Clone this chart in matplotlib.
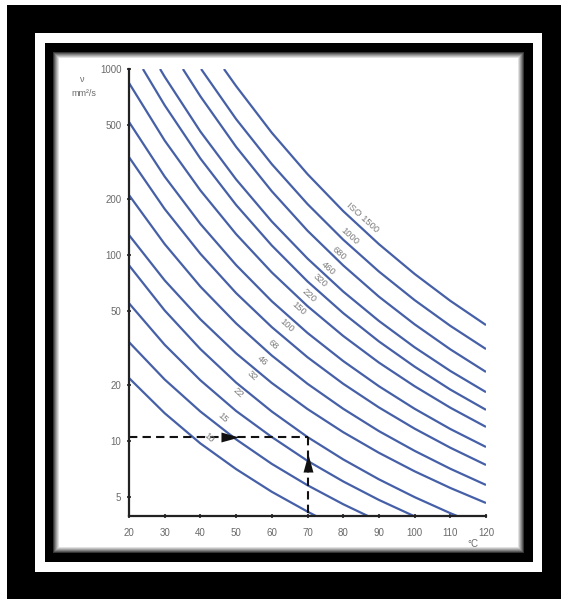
import numpy as np
import matplotlib
matplotlib.use("Agg")
import matplotlib.pyplot as plt

# ---------------- data ----------------
grades = ["10", "15", "22", "32", "46", "68", "100", "150", "220",
          "320", "460", "680", "1000", "ISO 1500"]

t_std = [20, 30, 40, 50, 60, 70, 80, 90, 100, 110, 120]

vg10_t = [20, 30, 40, 50, 60, 70, 72.9]
vg10_v = [21.8, 14.1, 9.7, 7.06, 5.33, 4.17, 3.9]
vg15_t = [20, 30, 40, 50, 60, 70, 80, 87.5]
vg15_v = [34, 21.4, 14.4, 10.2, 7.53, 5.78, 4.57, 3.9]
vg22_t = [20, 30, 40, 50, 60, 70, 80, 90, 100.4]
vg22_v = [55, 32.9, 21.2, 14.5, 10.5, 7.82, 6.06, 4.82, 3.9]
vg32_t = [20, 30, 40, 50, 60, 70, 80, 90, 100, 110, 112.6]
vg32_v = [88, 50.3, 31.2, 20.6, 14.4, 10.5, 7.96, 6.22, 4.99, 4.09, 3.9]
vg46_v = [128, 73.0, 45.1, 29.6, 20.5, 14.85, 11.15, 8.64, 6.87, 5.59, 4.64]
vg68_v = [210, 114.4, 67.6, 42.9, 28.8, 20.3, 14.9, 11.3, 8.85, 7.09, 5.80]
vg100_v = [336, 176.7, 101.5, 62.4, 40.95, 28.2, 20.3, 15.15, 11.65, 9.20, 7.43]
vg150_v = [519, 263.9, 146.9, 88.3, 56.4, 38.1, 26.9, 19.7, 14.9, 11.6, 9.28]
vg220_v = [841, 412.2, 222.5, 129.5, 80.6, 53.1, 36.7, 26.4, 19.7, 15.1, 11.9]
vg320_t = [23.9, 30, 40, 50, 60, 70, 80, 90, 100, 110, 120]
vg320_v = [1000, 638, 330, 185.9, 112.5, 72.1, 48.7, 34.3, 25.1, 18.9, 14.7]
vg460_t = [28.7, 30, 40, 50, 60, 70, 80, 90, 100, 110, 120]
vg460_v = [1000, 908, 461, 255, 151.4, 95.7, 63.6, 44.2, 31.9, 23.8, 18.3]
vg680_t = [35.1, 40, 50, 60, 70, 80, 90, 100, 110, 120]
vg680_v = [1000, 713, 381.5, 220.1, 135.1, 87.9, 59.7, 42.4, 31.1, 23.5]
vg1000_t = [40.2, 50, 60, 70, 80, 90, 100, 110, 120]
vg1000_v = [1000, 538, 308, 187.9, 120.9, 81.5, 57.2, 41.6, 31.2]
vg1500_t = [46.6, 50, 60, 70, 80, 90, 100, 110, 120]
vg1500_v = [1000, 809.5, 454.2, 272.2, 172.2, 114.4, 79.1, 56.7, 42.0]

curves = [
    (vg10_t, vg10_v), (vg15_t, vg15_v), (vg22_t, vg22_v), (vg32_t, vg32_v),
    (t_std, vg46_v), (t_std, vg68_v), (t_std, vg100_v), (t_std, vg150_v),
    (t_std, vg220_v), (vg320_t, vg320_v), (vg460_t, vg460_v),
    (vg680_t, vg680_v), (vg1000_t, vg1000_v), (vg1500_t, vg1500_v),
]

# label anchor positions (temperature, viscosity)
label_t = [42.4, 46.3, 50.5, 54.5, 57.5, 60.3, 64.3, 67.6, 70.4, 73.5, 75.7, 78.8, 81.9, 85.3]
label_v = [10.4, 13.4, 18.1, 22.3, 26.9, 32.8, 42.0, 51.3, 60.2, 73.4, 85.1, 102.5, 126, 158]

x_ticks = [20, 30, 40, 50, 60, 70, 80, 90, 100, 110, 120]
y_ticks = [5, 10, 20, 50, 100, 200, 500, 1000]
y_ticklabels = ["5", "10", "20", "50", "100", "200", "500", "1000"]

# worked example: 10.5 mm2/s at 70 degC
ex_v = 10.5
ex_t = 70

# ---------------- figure ----------------
W, H = 561, 599
fig = plt.figure(figsize=(W / 100, H / 100), dpi=100)

# decorative frame
img = np.ones((H, W, 3))
img[5:, 7:] = 0.0
img[33:572, 35:542] = 1.0
img[43:562, 45:533] = 0.0
yy, xx = np.mgrid[0:H, 0:W]
x0, x1, y0, y1 = 52, 524, 51, 553
d = np.minimum.reduce([xx - x0, x1 - xx, yy - y0, y1 - yy]).astype(float)
soft = np.clip(d / 7.0, 0, 1) ** 0.8
mask = d > 0
img[mask] = soft[mask][:, None]
bg = fig.add_axes([0, 0, 1, 1])
bg.imshow(img, extent=[0, W, H, 0], aspect="auto", interpolation="bilinear")
bg.set_xlim(0, W)
bg.set_ylim(H, 0)
bg.set_axis_off()

ax = fig.add_axes([129 / W, 1 - 516 / H, 357 / W, 447 / H])
ax.set_facecolor("none")
ax.set_yscale("log")
ax.set_xlim(20, 120)
ax.set_ylim(3.95, 1000)

blue = "#4660a8"
for t, v in curves:
    ax.plot(t, v, color=blue, lw=1.6, solid_capstyle="butt", solid_joinstyle="round")

for name, t, v in zip(grades, label_t, label_v):
    ax.text(t, v, name, rotation=-42, rotation_mode="anchor", ha="center",
            va="center", fontsize=6.8, color="#7d7d7d", family="Liberation Sans")

# dashed guide lines with arrows
ax.plot([20, ex_t], [ex_v, ex_v], color="#111111", lw=1.5, ls=(0, (4, 2.5)))
ax.plot([ex_t, ex_t], [ex_v, 3.95], color="#111111", lw=1.5, ls=(0, (4, 2.5)))
right_tri = [(-1, -0.55), (1, 0), (-1, 0.55), (-1, -0.55)]
up_tri = [(-0.55, -1), (0, 1), (0.55, -1), (-0.55, -1)]
ax.plot([48.2], [ex_v], marker=right_tri, ms=13, color="#111111", mew=0)
ax.plot([ex_t], [7.57], marker=up_tri, ms=13, color="#111111", mew=0)

# axes styling
for s in ["top", "right"]:
    ax.spines[s].set_visible(False)
for s in ["left", "bottom"]:
    ax.spines[s].set_linewidth(1.6)
    ax.spines[s].set_color("#222222")
ax.set_xticks(x_ticks)
ax.set_xticklabels([str(x) for x in x_ticks])
ax.set_yticks(y_ticks)
ax.set_yticklabels(y_ticklabels)
ax.yaxis.set_minor_locator(matplotlib.ticker.NullLocator())
ax.tick_params(axis="both", which="major", length=3, width=1.2, color="#222222",
               labelcolor="#6a6a6a", labelsize=7, direction="inout")
ax.tick_params(axis="x", pad=7)
ax.tick_params(axis="y", pad=4)
for lab in ax.get_xticklabels() + ax.get_yticklabels():
    lab.set_family("Liberation Sans")

fig.text(82 / W, 1 - 80 / H, "ν", ha="center", va="center", fontsize=6.5,
         color="#6a6a6a", family="Liberation Sans")
fig.text(84 / W, 1 - 93 / H, "mm²/s", ha="center", va="center", fontsize=6.5,
         color="#6a6a6a", family="Liberation Sans")
fig.text(473 / W, 1 - 544 / H, "°C", ha="center", va="center", fontsize=7,
         color="#6a6a6a", family="Liberation Sans")

fig.savefig("out.png", dpi=100)
